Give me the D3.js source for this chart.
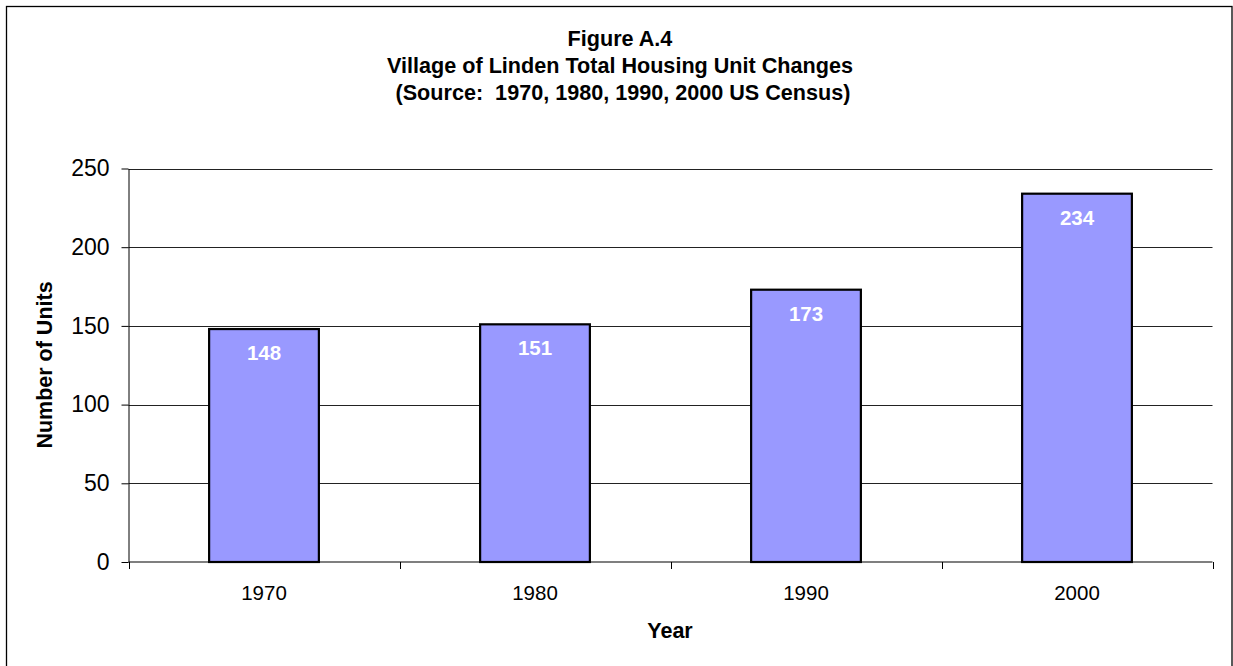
<!DOCTYPE html>
<html>
<head>
<meta charset="utf-8">
<script src="https://cdn.jsdelivr.net/npm/d3@7"></script>
<style>
  html, body { margin: 0; padding: 0; background: #fff; }
  svg { display: block; font-family: "Liberation Sans", Arial, sans-serif; }
</style>
</head>
<body>
<svg id="chart" width="1233" height="666"></svg>
<script>
const categories = ["1970", "1980", "1990", "2000"];
const units = [148, 151, 173, 234];
const yTicks = [0, 50, 100, 150, 200, 250];
const titleLines = ["Figure A.4", "Village of Linden Total Housing Unit Changes", " (Source:  1970, 1980, 1990, 2000 US Census)"];
const xTitle = "Year";
const yTitle = "Number of Units";

const svg = d3.select("#chart");
const plot = { left: 128.5, right: 1212.5, top: 168.5, bottom: 562 };

// outer frame
svg.append("rect")
  .attr("x", 6.5).attr("y", 6.5)
  .attr("width", 1225.5).attr("height", 670)
  .attr("fill", "#fff").attr("stroke", "#000").attr("stroke-width", 1.3);

const x = d3.scaleBand().domain(categories).range([plot.left, plot.right]).padding(0);
const y = d3.scaleLinear().domain([0, 250]).range([plot.bottom, plot.top]);

// gridlines
svg.append("g").selectAll("line").data(yTicks.filter(d => d > 0)).join("line")
  .attr("x1", plot.left).attr("x2", plot.right)
  .attr("y1", d => Math.round(y(d)) + 0.5).attr("y2", d => Math.round(y(d)) + 0.5)
  .attr("stroke", "#222").attr("stroke-width", 1);

// y axis
const yAxis = d3.axisLeft(y).tickValues(yTicks).tickSize(7).tickPadding(12).tickSizeOuter(0);
const gy = svg.append("g").attr("transform", `translate(${plot.left},0)`).call(yAxis);
gy.select(".domain").attr("stroke", "#000");
gy.selectAll(".tick line").attr("stroke", "#000");
gy.selectAll(".tick text").attr("font-size", 23).attr("fill", "#000")
  .attr("font-family", "Liberation Sans, Arial, sans-serif");

// bars
const barW = x.bandwidth() * 0.405;
svg.append("g").selectAll("rect").data(categories).join("rect")
  .attr("x", d => x(d) + (x.bandwidth() - barW) / 2)
  .attr("y", (d, i) => y(units[i]))
  .attr("width", barW)
  .attr("height", (d, i) => y(0) - y(units[i]))
  .attr("fill", "#9999FF").attr("stroke", "#000").attr("stroke-width", 2.2);

// x axis
const gx = svg.append("g").attr("transform", `translate(0,${plot.bottom})`);
gx.append("line").attr("x1", plot.left).attr("x2", plot.right).attr("y1", 0).attr("y2", 0)
  .attr("stroke", "#000").attr("stroke-width", 1.2);
const bounds = categories.map(d => x(d)).concat([plot.right]);
gx.selectAll("line.cat").data(bounds).join("line").attr("class", "cat")
  .attr("x1", d => Math.round(d) + 0.5).attr("x2", d => Math.round(d) + 0.5)
  .attr("y1", 0).attr("y2", 7).attr("stroke", "#000");
gx.selectAll("text").data(categories).join("text")
  .attr("x", d => x(d) + x.bandwidth() / 2)
  .attr("y", 38)
  .attr("text-anchor", "middle")
  .attr("font-size", 20.5)
  .attr("fill", "#000")
  .text(d => d);

// value labels
svg.append("g").selectAll("text").data(categories).join("text")
  .attr("x", d => x(d) + x.bandwidth() / 2)
  .attr("y", (d, i) => y(units[i]) + 31)
  .attr("text-anchor", "middle")
  .attr("font-size", 20.5).attr("font-weight", "bold")
  .attr("fill", "#fff")
  .text((d, i) => units[i]);

// title
svg.append("g").selectAll("text").data(titleLines).join("text")
  .attr("x", 620).attr("y", (d, i) => 46 + i * 27)
  .attr("text-anchor", "middle")
  .attr("font-size", 21.6).attr("font-weight", "bold")
  .attr("xml:space", "preserve")
  .style("white-space", "pre")
  .attr("fill", "#000")
  .text(d => d);

// axis titles
svg.append("text")
  .attr("x", 670).attr("y", 638)
  .attr("text-anchor", "middle")
  .attr("font-size", 21.5).attr("font-weight", "bold")
  .text(xTitle);

svg.append("text")
  .attr("transform", "translate(52,365) rotate(-90)")
  .attr("text-anchor", "middle")
  .attr("font-size", 21.5).attr("font-weight", "bold")
  .text(yTitle);
</script>
</body>
</html>
